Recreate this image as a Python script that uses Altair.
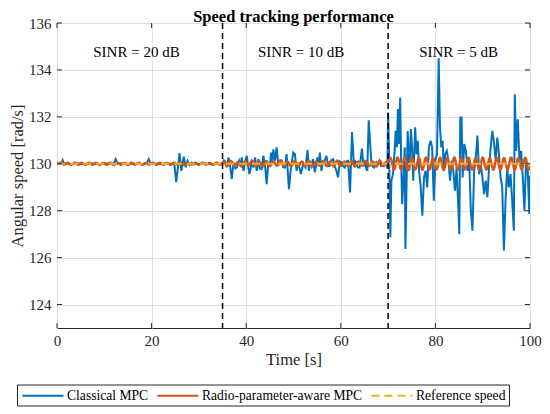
import altair as alt
import pandas as pd

FONT = "Liberation Serif"

# ---------------- data ----------------
x_ticks = [0, 20, 40, 60, 80, 100]
y_ticks = [124, 126, 128, 130, 132, 134, 136]
series_names = ["Classical MPC", "Radio-parameter-aware MPC", "Reference speed"]
series_colors = ["#0072BD", "#D95319", "#EDB120"]
series_dash = [[1, 0], [1, 0], [8, 5]]

sinr_bounds = [35, 70]
sinr_labels = ["SINR = 20 dB", "SINR = 10 dB", "SINR = 5 dB"]
sinr_label_x = [16.8, 51.6, 84.9]
sinr_label_y = [134.75, 134.75, 134.75]

# Classical MPC
blue_t = [
    0.0, 0.5, 1.0, 1.2, 1.5, 2.0, 3.0, 4.0, 5.0, 6.0, 7.0, 8.0, 9.0, 10.0, 11.0, 12.0,
    12.4, 12.8, 13.5, 15.0, 16.0, 17.0, 18.0, 19.0, 19.4, 19.8, 21.0, 22.0, 23.0, 24.0,
    24.8, 25.2, 25.6, 25.9, 26.3, 26.8, 27.2, 27.6, 28.0, 28.5, 29.0, 29.5, 30.0, 31.0,
    32.0, 33.0, 34.0, 34.5,
    35.0, 35.3, 35.56, 35.91, 36.26, 36.6, 36.96, 37.32, 37.7, 38.02, 38.51, 38.8, 39.07,
    39.42, 39.8, 40.12, 40.4, 40.68, 41.18, 41.53, 41.88, 42.23, 42.58, 42.9, 43.28, 43.63,
    44.0, 44.33, 44.68, 45.0, 45.25, 45.5, 45.74, 46.09, 46.44, 46.79, 47.1, 47.49, 47.8,
    48.19, 48.54, 49.04, 49.46, 49.95, 50.3, 50.65, 51.0, 51.3, 51.56, 52.05, 52.54, 52.96,
    53.25, 53.5, 53.81, 54.1, 54.51, 55.07, 55.3, 55.56, 55.91, 56.2, 56.47, 56.96, 57.3,
    57.65, 58.0, 58.37, 58.7, 59.07, 59.42, 59.8, 60.12, 60.5, 60.82, 61.2, 61.53, 61.95,
    62.37, 62.79, 63.1, 63.28, 63.6, 63.98, 64.47, 64.8, 65.04, 65.4, 65.6, 65.9, 66.44,
    66.7, 67.0, 67.49, 67.8, 68.19, 68.5, 68.9, 69.3, 69.6, 69.85,
    70.0, 70.21, 70.48, 70.69, 71.03, 71.38, 71.59, 71.86, 72.07, 72.28, 72.55, 72.76,
    72.97, 73.24, 73.52, 73.66, 73.93, 74.14, 74.48, 74.83, 75.03, 75.31, 75.72, 76.0,
    76.28, 76.55, 76.9, 77.24, 77.59, 77.93, 78.28, 78.62, 78.97, 79.31, 79.66, 80.0,
    80.34, 80.69, 80.97, 81.24, 81.52, 81.79, 82.07, 82.41, 82.76, 83.1, 83.45, 83.79,
    84.14, 84.48, 84.84, 85.05, 85.26, 85.54, 85.75, 86.1, 86.45, 86.8, 87.14, 87.49,
    87.84, 88.19, 88.54, 88.89, 89.24, 89.59, 89.94, 90.29, 90.64, 90.99, 91.34, 91.69,
    92.04, 92.39, 92.74, 93.08, 93.43, 93.78, 94.13, 94.48, 94.83, 95.18, 95.53, 95.88,
    96.23, 96.58, 96.79, 97.07, 97.42, 97.77, 98.12, 98.47, 98.82, 99.16, 99.51, 99.86,
    100.0,
]
blue_v = [
    130.05, 130.0, 130.03, 130.15, 130.0, 130.02, 129.98, 130.02, 130.0, 129.99, 130.02,
    130.0, 129.98, 130.02, 130.0, 130.01, 130.2, 130.0, 130.02, 129.99, 130.01, 130.0,
    129.98, 130.02, 130.2, 130.0, 130.01, 129.99, 130.02, 130.0, 130.0, 129.22, 129.9,
    130.45, 129.7, 130.3, 129.85, 130.12, 129.95, 130.05, 129.97, 130.02, 129.98, 130.02,
    130.0, 129.99, 130.02, 129.98,
    130.0, 130.15, 130.1, 129.85, 130.27, 129.9, 129.35, 130.06, 129.8, 129.84, 130.13,
    129.9, 130.27, 129.7, 130.1, 130.34, 129.9, 129.56, 130.06, 129.84, 130.27, 129.7,
    130.2, 129.8, 129.77, 130.34, 129.9, 129.13, 130.06, 129.9, 130.48, 130.0, 130.62,
    130.13, 130.7, 129.91, 130.1, 130.13, 129.85, 129.84, 130.41, 128.92, 129.84, 130.48,
    130.41, 129.7, 130.06, 129.8, 129.56, 130.0, 129.84, 130.58, 129.7, 130.1, 129.91,
    130.2, 129.63, 130.27, 129.9, 130.48, 129.7, 130.1, 130.06, 130.34, 129.9, 129.91,
    130.15, 130.2, 129.9, 129.7, 129.42, 130.1, 130.06, 129.9, 129.84, 130.1, 130.13,
    128.78, 131.35, 129.91, 130.1, 130.06, 129.85, 129.84, 130.65, 129.9, 130.06, 129.8,
    129.7, 131.85, 130.13, 129.9, 129.84, 130.06, 129.95, 130.13, 129.9, 129.91, 130.05,
    130.06, 129.8,
    132.18, 130.41, 126.87, 129.28, 129.56, 130.55, 131.4, 130.7, 132.33, 130.84, 132.82,
    130.13, 128.28, 129.28, 130.7, 126.37, 129.42, 131.4, 129.7, 131.48, 130.84, 129.28,
    131.55, 130.41, 130.98, 129.7, 128.99, 127.79, 129.42, 129.7, 128.99, 130.7, 130.98,
    130.7, 128.43, 130.13, 130.41, 134.5, 131.55, 130.7, 130.98, 129.7, 130.41, 130.55,
    130.13, 129.28, 130.13, 129.7, 128.85, 129.84, 128.14, 127.0, 131.97, 131.97, 129.42,
    130.84, 130.55, 129.7, 130.13, 128.0, 127.15, 129.7, 130.27, 131.2, 129.56, 129.99,
    129.42, 128.71, 129.28, 128.57, 129.84, 130.7, 131.4, 130.91, 130.13, 131.12, 130.41,
    129.42, 128.99, 126.3, 128.43, 129.84, 128.99, 129.56, 128.43, 127.15, 132.96, 130.55,
    131.9, 130.13, 130.55, 129.42, 128.0, 130.13, 129.7, 127.86,
    129.5,
]

# Radio-parameter-aware MPC (sampled every orange_dt seconds)
orange_dt = 0.75
orange_v = [
    130.0, 130.05, 129.96, 130.05, 129.95, 130.05, 129.96, 130.04, 129.95, 130.05,
    129.96, 130.05, 129.95, 130.04, 129.96, 130.05, 129.95, 130.05, 129.96, 130.04,
    129.95, 130.05, 129.96, 130.05, 129.95, 130.04, 129.96, 130.05, 129.95, 130.05,
    129.96, 130.04, 129.95, 130.05, 129.96, 130.05, 129.95, 130.04, 129.96, 130.05,
    129.95, 130.05, 129.96, 130.04, 129.95, 130.05, 129.96,
    130.1, 129.9, 130.12, 129.9, 130.08, 129.88, 130.1, 129.92, 130.14, 129.9,
    130.1, 129.88, 130.12, 129.9, 130.1, 129.92, 130.15, 129.9, 130.1, 129.88,
    130.12, 129.9, 130.1, 129.9, 130.13, 129.88, 130.1, 129.92, 130.12, 129.9,
    130.1, 129.88, 130.14, 129.9, 130.1, 129.9, 130.12, 129.88, 130.1, 129.92,
    130.12, 129.9, 130.1, 129.88, 130.13, 129.9, 130.1,
    130.25, 129.75, 130.27, 129.75, 130.25, 129.73, 130.26, 129.75, 130.25, 129.74,
    130.27, 129.75, 130.25, 129.75, 130.26, 129.73, 130.25, 129.75, 130.27, 129.74,
    130.25, 129.75, 130.26, 129.75, 130.25, 129.73, 130.27, 129.75, 130.25, 129.74,
    130.26, 129.75, 130.25, 129.75, 130.27, 129.73, 130.25, 129.75, 130.26, 129.75,
    130.2,
]
orange_t = [round(i * orange_dt, 3) for i in range(len(orange_v))]

ref_t = [0, 100]
ref_v = [130, 130]

# ---------------- frames ----------------
blue_df = pd.DataFrame({"t": blue_t, "v": blue_v, "series": series_names[0]})
orange_df = pd.DataFrame({"t": orange_t, "v": orange_v, "series": series_names[1]})
ref_df = pd.DataFrame({"t": ref_t, "v": ref_v, "series": series_names[2]})
bounds_df = pd.DataFrame({"t": sinr_bounds})
labels_df = pd.DataFrame({"t": sinr_label_x, "v": sinr_label_y, "label": sinr_labels})
xt_df = pd.DataFrame({"t": x_ticks})
yt_df = pd.DataFrame({"v": y_ticks})

W, H = 473, 305
tick_col = "#262626"

xs = alt.Scale(domain=[0, 100], nice=False, zero=False)
ys = alt.Scale(domain=[123, 136], nice=False, zero=False)

axis_common = dict(grid=True, ticks=False, domain=False, format="d", labelFlush=False,
                   labelFont=FONT, labelFontSize=15, labelColor=tick_col,
                   titleFont=FONT, titleFontSize=16.5, titleColor=tick_col,
                   titleFontWeight="normal", gridColor="#dedede", gridWidth=1)
x_axis = alt.Axis(values=x_ticks, title="Time [s]", labelPadding=5, titlePadding=3, **axis_common)
y_axis = alt.Axis(values=y_ticks, title="Angular speed [rad/s]", labelPadding=6, titlePadding=3,
                  **axis_common)

# wide line symbol drawn with a custom path, so the legend rows stay short
leg = alt.Legend(title=None, orient="none", legendX=-40, legendY=361.5, direction="horizontal",
                 strokeColor="#262626", fillColor="white", padding=3,
                 labelFont=FONT, labelFontSize=13.6, labelColor="black", labelLimit=400,
                 symbolType="M-0.8,0H5.06", symbolSize=196, symbolStrokeWidth=2,
                 labelOffset=31, columnPadding=4)

color = alt.Color("series:N", scale=alt.Scale(domain=series_names, range=series_colors), legend=leg)
dash = alt.StrokeDash("series:N", scale=alt.Scale(domain=series_names, range=series_dash), legend=leg)

X = alt.X("t:Q", scale=xs, axis=x_axis)
Y = alt.Y("v:Q", scale=ys, axis=y_axis)

blue = alt.Chart(blue_df).mark_line(strokeWidth=2, clip=True).encode(
    x=X, y=Y, color=color, strokeDash=dash, order="t:Q")
orange = alt.Chart(orange_df).mark_line(strokeWidth=2.4, clip=True, interpolate="monotone").encode(
    x=X, y=Y, color=color, strokeDash=dash, order="t:Q")
ref = alt.Chart(ref_df).mark_line(strokeWidth=2, clip=True).encode(
    x=X, y=Y, color=color, strokeDash=dash)

bounds = alt.Chart(bounds_df).mark_rule(color="black", strokeWidth=1.5, strokeDash=[6, 4]).encode(
    x=X)

texts = alt.Chart(labels_df).mark_text(font=FONT, fontSize=15, color="black").encode(
    x=X, y=Y, text="label:N")

xt_bot = alt.Chart(xt_df).mark_rule(color=tick_col, strokeWidth=1).encode(
    x=X, y=alt.value(H), y2=alt.value(H - 5))
xt_top = alt.Chart(xt_df).mark_rule(color=tick_col, strokeWidth=1).encode(
    x=X, y=alt.value(0), y2=alt.value(5))
yt_left = alt.Chart(yt_df).mark_rule(color=tick_col, strokeWidth=1).encode(
    y=Y, x=alt.value(0), x2=alt.value(5))
yt_right = alt.Chart(yt_df).mark_rule(color=tick_col, strokeWidth=1).encode(
    y=Y, x=alt.value(W), x2=alt.value(W - 5))

chart = alt.layer(blue, orange, ref, bounds, texts, xt_bot, xt_top, yt_left, yt_right).properties(
    width=W, height=H, background="white",
    title=alt.TitleParams("Speed tracking performance", font=FONT, fontSize=16.5,
                          fontWeight="bold", anchor="middle", offset=-9, color="black"),
    autosize=alt.AutoSizeParams(type="none"),
    padding={"left": 49, "top": 15, "right": 12, "bottom": 81},
).configure_view(stroke=tick_col, strokeWidth=1)

chart.save("out.html", embed_options={"renderer": "svg", "actions": False})
